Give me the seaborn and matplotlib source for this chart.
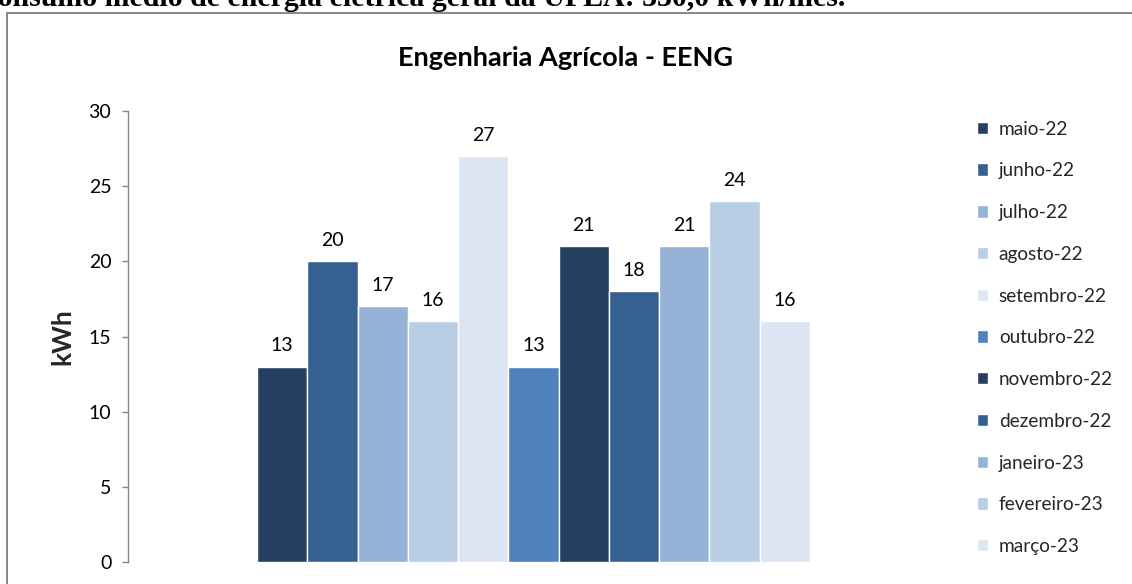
import matplotlib
matplotlib.use("Agg")
import matplotlib.pyplot as plt
import matplotlib.patches as mpatches
import seaborn as sns
import pandas as pd

# ---- data ----
months = ["maio-22", "junho-22", "julho-22", "agosto-22", "setembro-22",
          "outubro-22", "novembro-22", "dezembro-22", "janeiro-23",
          "fevereiro-23", "março-23"]
values = [13, 20, 17, 16, 27, 13, 21, 18, 21, 24, 16]
colors = ["#264061", "#376092", "#95B3D7", "#B9CDE5", "#DCE6F2",
          "#4F81BD", "#254061", "#376092", "#95B3D7", "#B9CDE5", "#DCE6F2"]
title = "Engenharia Agrícola - EENG"
ylabel = "kWh"
caption = "Consumo médio de energia elétrica geral da UFLA: 330,0 kWh/mês."
yticks = [0, 5, 10, 15, 20, 25, 30]

sns.set_theme(style="white")
plt.rcParams["font.family"] = ["Lato", "DejaVu Sans"]

W, H = 1132, 584
fig = plt.figure(figsize=(W / 100, H / 100), dpi=100)

def fx(px):
    return px / W

def fy(py):
    return (H - py) / H

# chart frame (cut off at right and bottom)
frame = mpatches.Rectangle((fx(7), fy(600)), fx(1200), (600 - 13) / H,
                           transform=fig.transFigure, fill=False,
                           edgecolor="#878787", linewidth=1.4)
fig.patches.append(frame)

# cropped caption above the frame
renderer = fig.canvas.get_renderer()
cap = fig.text(fx(845), fy(6), caption, ha="right", va="baseline",
               family="Liberation Serif", weight="bold", fontsize=20,
               color="black")
bb = cap.get_window_extent(renderer=renderer)
cap.set_fontsize(20 * 870 / bb.width)

# axes
ax = fig.add_axes([fx(128), fy(562), fx(939) - fx(128), (562 - 111) / H])
df = pd.DataFrame({"grupo": ["EENG"] * len(months), "mes": months, "kWh": values})
sns.barplot(data=df, x="grupo", y="kWh", hue="mes", hue_order=months,
            palette=colors, width=0.8, saturation=1, ax=ax, legend=True)
half = 0.8 * (939 - 128) / (810 - 257) / 2
ax.set_xlim(-half, half)
ax.set_ylim(0, 30)
ax.set_yticks(yticks)
ax.set_xticks([])
ax.set_xlabel("")
ax.set_ylabel(ylabel, fontsize=19, fontweight="bold", labelpad=10)
for s in ["top", "right", "bottom"]:
    ax.spines[s].set_visible(False)
ax.spines["left"].set_color("#878787")
ax.spines["left"].set_linewidth(1.0)
ax.tick_params(axis="y", which="major", left=True, length=4, width=1.0,
               color="#878787", pad=8, labelsize=14, labelcolor="black",
               direction="out")

for cont in ax.containers:
    ax.bar_label(cont, fmt="%.0f", padding=9, fontsize=14, color="black")

# title
fig.text(fx(566), fy(58), title, ha="center", va="center",
         fontsize=19.5, fontweight="bold", color="black")

# legend
handles, labels = ax.get_legend_handles_labels()
if ax.legend_:
    ax.legend_.remove()
leg = fig.legend(handles, labels, loc="upper left",
                 bbox_to_anchor=(fx(969), fy(113)), frameon=False,
                 fontsize=13.7, handlelength=0.62, handleheight=0.62,
                 handletextpad=0.55, labelspacing=1.3, borderaxespad=0)

fig.savefig("out.png", dpi=100)
